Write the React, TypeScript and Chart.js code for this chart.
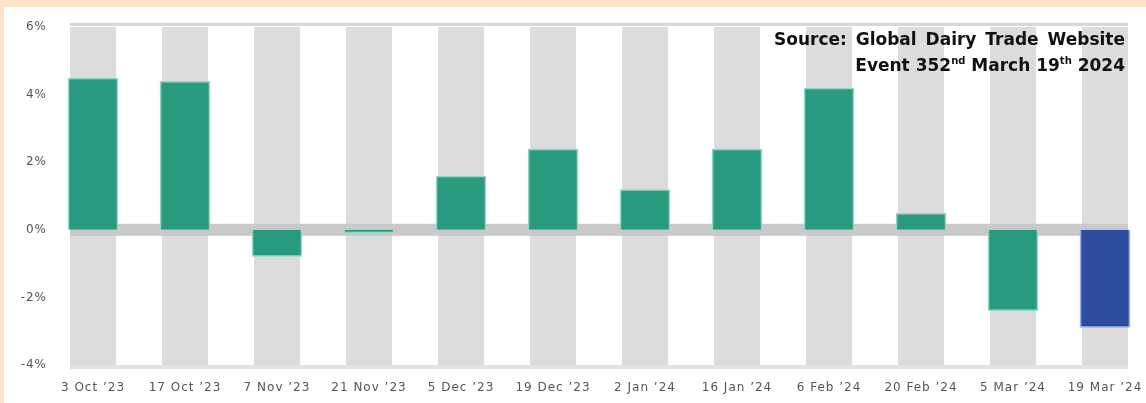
import React, { useEffect, useRef } from "react";
import { Chart, registerables } from "chart.js";

Chart.register(...registerables);

const categories = [
  "3 Oct ’23", "17 Oct ’23", "7 Nov ’23", "21 Nov ’23", "5 Dec ’23", "19 Dec ’23",
  "2 Jan ’24", "16 Jan ’24", "6 Feb ’24", "20 Feb ’24", "5 Mar ’24", "19 Mar ’24",
];
const priceChange = [4.5, 4.4, -0.8, -0.1, 1.6, 2.4, 1.2, 2.4, 4.2, 0.5, -2.4, -2.9];
const yTickValues = [-4, -2, 0, 2, 4, 6];
const yMin = -4;
const yMax = 6;

const GREEN = "#289a7e";
const GREEN_EDGE = "#8fd6c4";
const BLUE = "#2d4c9e";
const BLUE_EDGE = "#8fb0ea";

const bandPlugin = {
  id: "bands",
  beforeDraw(chart: any) {
    chart.ctx.letterSpacing = "1px";
  },
  afterDraw(chart: any) {
    chart.ctx.letterSpacing = "0px";
  },
  afterDatasetDraw(chart: any, args: any) {
    if (args.index !== 0) return;
    const ctx = chart.ctx;
    const meta = chart.getDatasetMeta(0);
    const first = meta.data[0] as any;
    const last = meta.data[meta.data.length - 1] as any;
    const x0 = first.x - first.width / 2;
    const x1 = last.x + last.width / 2;
    const ys = chart.scales.y;
    ctx.save();
    ctx.letterSpacing = "0px";
    ctx.fillStyle = "#c9c9c9";
    const y0 = ys.getPixelForValue(0);
    ctx.fillRect(x0, y0 - 6, x1 - x0, 12);
    ctx.fillStyle = "#d8d8d8";
    ctx.fillRect(x0, chart.chartArea.top - 4, x1 - x0, 3);
    ctx.fillStyle = "#e3e3e3";
    ctx.fillRect(x0, chart.chartArea.bottom, x1 - x0, 4);
    ctx.restore();
  },
};

export default function App() {
  const ref = useRef<HTMLCanvasElement | null>(null);

  useEffect(() => {
    if (!ref.current) return;
    const n = priceChange.length;
    const chart = new Chart(ref.current, {
      type: "bar",
      data: {
        labels: categories,
        datasets: [
          {
            label: "bg",
            data: categories.map(() => [yMin, yMax]) as any,
            backgroundColor: "#dcdcdc",
            borderWidth: 0,
            barPercentage: 0.5,
            categoryPercentage: 1,
            grouped: false,
            order: 2,
          },
          {
            label: "GDT price index change",
            data: priceChange,
            backgroundColor: priceChange.map((_, i) => (i === n - 1 ? BLUE : GREEN)),
            borderColor: priceChange.map((_, i) => (i === n - 1 ? BLUE_EDGE : GREEN_EDGE)),
            borderWidth: 1.5,
            barPercentage: 0.55,
            categoryPercentage: 1,
            grouped: false,
            order: 1,
          },
        ],
      },
      options: {
        responsive: false,
        animation: false,
        devicePixelRatio: 1,
        layout: { padding: { top: 27, right: 9, left: 0, bottom: 0 } },
        plugins: {
          legend: { display: false },
          tooltip: { enabled: false },
        },
        scales: {
          x: {
            grid: { display: false, drawTicks: false },
            border: { display: false },
            ticks: {
              color: "#555555",
              font: { family: "DejaVu Sans", size: 12 },
              padding: 16,
              maxRotation: 0,
              autoSkip: false,
            },
            afterFit(scale: any) {
              scale.height = 38;
            },
          },
          y: {
            min: yMin,
            max: yMax,
            grid: { display: false, drawTicks: false },
            border: { display: false },
            afterBuildTicks(scale: any) {
              scale.ticks = yTickValues.map((v) => ({ value: v }));
            },
            ticks: {
              color: "#555555",
              font: { family: "DejaVu Sans", size: 12 },
              padding: 0,
              callback: (v: any) => `${v}%`,
            },
            afterFit(scale: any) {
              scale.width = 47;
            },
          },
        },
      },
      plugins: [bandPlugin],
    });
    return () => chart.destroy();
  }, []);

  return (
    <div
      style={{
        position: "fixed",
        left: 0,
        top: 0,
        width: 1146,
        height: 403,
        overflow: "hidden",
        background: "#fde4c8",
      }}
    >
      <div
        style={{
          position: "absolute",
          left: 4,
          top: 7,
          width: 1142,
          height: 396,
          background: "#ffffff",
        }}
      />
      <canvas
        ref={ref}
        width={1160}
        height={403}
        style={{ position: "absolute", left: 0, top: 0, width: 1160, height: 403 }}
      />
      <div
        style={{
          position: "absolute",
          right: 21,
          top: 26,
          width: 351,
          fontFamily: "DejaVu Sans",
          fontWeight: 700,
          fontSize: 17,
          lineHeight: "26px",
          color: "#111111",
        }}
      >
        <div style={{ textAlign: "justify", textAlignLast: "justify", whiteSpace: "nowrap" }}>
          Source: Global Dairy Trade Website
        </div>
        <div style={{ textAlign: "right", whiteSpace: "nowrap" }}>
          Event 352
          <span style={{ fontSize: 10, position: "relative", top: -7 }}>nd</span> March 19
          <span style={{ fontSize: 10, position: "relative", top: -7 }}>th</span> 2024
        </div>
      </div>
    </div>
  );
}
